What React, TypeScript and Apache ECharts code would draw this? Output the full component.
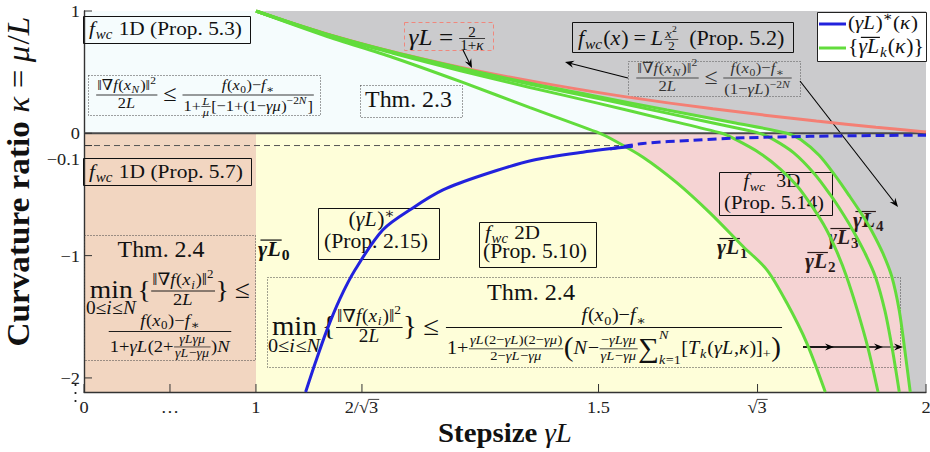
import React, { useEffect, useRef } from 'react';
import * as echarts from 'echarts';

// ---------------- data ----------------
// display x coordinate: stepsizes in [0,1] are compressed to [X_MIN,1]
const X_MIN = 0.749;
const X_MAX = 1.978;
const Y_MIN = -2.115;
const Y_MAX = 1;

const xTickPos = [0.749, 0.8745, 1, 1.1547, 1.5, 1.7321, 1.978];
const xTickLabels = ['0', '…', '1', '2/\\sq{3}', '1.5', '\\sq{3}', '2'];
const yTickPos = [1, 0, -0.1, -1, -2];
const yTickLabels = ['1', '0', '−0.1', '−1', '−2'];

// γL = 2/(1+κ)
const redCurve = [[1, 1], [1.053, 0.9], [1.111, 0.8], [1.176, 0.7], [1.25, 0.6], [1.333, 0.5], [1.429, 0.4], [1.538, 0.3], [1.667, 0.2], [1.818, 0.1], [1.905, 0.05], [1.978, 0.011]];

// (γL)*(κ)
const blueSolid = [[1.0725, -2.115], [1.087, -1.87], [1.103, -1.617], [1.122, -1.36], [1.1445, -1.118], [1.185, -0.79], [1.229, -0.61], [1.273, -0.463], [1.331, -0.341], [1.404, -0.22], [1.477, -0.154], [1.55, -0.106]];
const blueDashed = [[1.517, -0.128], [1.565, -0.083], [1.638, -0.057], [1.711, -0.037], [1.809, -0.025], [1.907, -0.018], [1.978, -0.015]];

// γL_k(κ), k = 1..4 (upper: κ ≥ 0, lower: κ ≤ 0)
const g1Upper = [[1, 1], [1.1, 0.8], [1.2, 0.62], [1.3, 0.42], [1.4, 0.21], [1.502, 0]];
const g1Lower = [[1.502, 0], [1.517, -0.04], [1.565, -0.195], [1.615, -0.407], [1.663, -0.652], [1.711, -0.925], [1.746, -1.118], [1.775, -1.388], [1.804, -1.715], [1.831, -2.115]];
const g2Upper = [[1, 1], [1.1, 0.81], [1.2, 0.655], [1.3, 0.51], [1.4, 0.375], [1.5, 0.245], [1.6, 0.11], [1.68, 0]];
const g2Lower = [[1.68, 0], [1.7, -0.05], [1.735, -0.16], [1.765, -0.29], [1.79, -0.43], [1.812, -0.6], [1.832, -0.78], [1.848, -0.97], [1.862, -1.17], [1.878, -1.45], [1.894, -1.77], [1.908, -2.115]];
const g3Upper = [[1, 1], [1.1, 0.815], [1.2, 0.662], [1.3, 0.526], [1.4, 0.4], [1.5, 0.285], [1.6, 0.165], [1.7, 0.045], [1.735, 0]];
const g3Lower = [[1.735, 0], [1.755, -0.05], [1.785, -0.16], [1.815, -0.33], [1.838, -0.5], [1.857, -0.66], [1.872, -0.8], [1.889, -0.98], [1.904, -1.17], [1.918, -1.45], [1.929, -1.77], [1.939, -2.115]];
const g4Upper = [[1, 1], [1.1, 0.817], [1.2, 0.665], [1.3, 0.533], [1.4, 0.41], [1.5, 0.3], [1.6, 0.19], [1.7, 0.085], [1.775, 0]];
const g4Lower = [[1.775, 0], [1.795, -0.05], [1.822, -0.18], [1.846, -0.35], [1.866, -0.51], [1.884, -0.66], [1.899, -0.8], [1.915, -0.98], [1.928, -1.17], [1.939, -1.45], [1.947, -1.77], [1.955, -2.115]];

const refKappa = -0.1;
const refKappaEnd = 1.53;

// ---------------- tiny math typesetter ----------------
const FAM = '"Liberation Serif","DejaVu Serif",serif';
const HS = 1.08;
const ITAL = /[A-Za-zα-ω]/;
const DESC = /[()\[\]{}gjpqyμγβ‖|∑\/,]/;
const fontStr = (sz: number, it: boolean, bd: boolean) => `${it ? 'italic ' : ''}${bd ? 'bold ' : ''}${sz.toFixed(2)}px ${FAM}`;
let mctx: any = null;
function textW(s: string, font: string): number {
  if (!mctx) mctx = document.createElement('canvas').getContext('2d');
  mctx.font = font;
  return mctx.measureText(s).width;
}

function parse(src: string, sz: number, bd = false, rm = false): any[] {
  const out: any[] = [];
  let i = 0;
  const group = (): string => {
    if (src[i] === '{') {
      let depth = 0, j = i;
      for (; j < src.length; j++) {
        const ch = src[j];
        if (ch === '\\') { j++; continue; }
        if (ch === '{') depth++;
        else if (ch === '}') { depth--; if (depth === 0) break; }
      }
      const g = src.slice(i + 1, j);
      i = j + 1;
      return g;
    }
    if (src[i] === '\\') { const g = src.slice(i, i + 2); i += 2; return g; }
    const c = src[i]; i++; return c;
  };
  const pushChar = (ch: string, it: boolean) => {
    const last = out[out.length - 1];
    if (last && last.k === 't' && last.sz === sz && last.it === it && last.bd === bd && last.dy === 0) last.s += ch;
    else out.push({ k: 't', s: ch, sz, it, bd, dy: 0 });
  };
  while (i < src.length) {
    const c = src[i];
    if (c === '_' || c === '^') {
      i++;
      const g = parse(group(), sz * 0.7, bd, rm);
      const slot = c === '_' ? 'sub' : 'sup';
      let last = out[out.length - 1];
      if (!(last && last.k === 'x' && !last[slot])) {
        const prev = out[out.length - 1];
        last = { k: 'x', sub: null, sup: null, sz, big: !!(prev && prev.k === 't' && prev.sz > sz * 1.3) };
        out.push(last);
      }
      last[slot] = g;
      continue;
    }
    if (c === '\\') {
      const nx = src[i + 1];
      if (!/[a-zA-Z]/.test(nx)) { pushChar(nx, false); i += 2; continue; }
      let j = i + 1;
      while (j < src.length && /[a-zA-Z]/.test(src[j])) j++;
      const cmd = src.slice(i + 1, j);
      i = j;
      if (cmd === 'fr') { const a = group(); const b = group(); out.push({ k: 'f', n: parse(a, sz, bd, rm), d: parse(b, sz, bd, rm), sz }); }
      else if (cmd === 'z') { const f = parseFloat(group()); out.push(...parse(group(), sz * f, bd, rm)); }
      else if (cmd === 'rm') out.push(...parse(group(), sz, bd, true));
      else if (cmd === 'bf') out.push(...parse(group(), sz, true, rm));
      else if (cmd === 'ol') out.push({ k: 'o', c: parse(group(), sz, bd, rm), sz });
      else if (cmd === 'sq') out.push({ k: 'q', c: parse(group(), sz, bd, rm), sz });
      else if (cmd === 'un') { const a = group(); const b = group(); out.push({ k: 'u', b: parse(a, sz, bd, rm), u: parse(b, sz * 0.7, bd, rm), sz }); }
      else if (cmd === 'lg') out.push({ k: 't', s: group(), sz: sz * 1.45, it: false, bd, dy: sz * 0.1 });
      else if (cmd === 'lgs') out.push({ k: 't', s: group(), sz: sz * 1.45, it: false, bd, dy: sz * 0.2 });
      continue;
    }
    if (c === ' ') {
      if (rm) out.push({ k: 's', w: textW(' ', fontStr(sz, false, bd)) });
      else out.push({ k: 's', w: sz * 0.22 });
      i++;
      continue;
    }
    pushChar(c, !rm && ITAL.test(c));
    i++;
  }
  return out;
}

function txt(s: string, font: string, x: number, y: number, col: string) {
  return { type: 'text', x, y, scaleX: HS, silent: true, style: { text: s, font, fill: col, textAlign: 'left', textVerticalAlign: 'middle', align: 'left', verticalAlign: 'middle' } };
}
function hline(x1: number, x2: number, y: number, col: string, lw: number) {
  return { type: 'line', silent: true, shape: { x1, y1: y, x2, y2: y }, style: { stroke: col, lineWidth: lw } };
}

function lay(nodes: any[], x: number, base: number, axis: number, out: any[] | null, col: string): { w: number; h: number; d: number } {
  let cx = x, h = 0, d = 0;
  for (const nd of nodes) {
    if (nd.k === 's') { cx += nd.w * HS; continue; }
    if (nd.k === 't') {
      const f = fontStr(nd.sz, nd.it, nd.bd);
      const w = textW(nd.s, f) * HS;
      if (out) out.push(txt(nd.s, f, cx, base + nd.dy - nd.sz * 0.34, col));
      cx += w + (nd.it ? nd.sz * 0.04 : 0);
      h = Math.max(h, 0.7 * nd.sz - nd.dy);
      d = Math.max(d, (DESC.test(nd.s) ? 0.22 * nd.sz : 0.01) + nd.dy);
      continue;
    }
    if (nd.k === 'f') {
      const ax = 0.27 * nd.sz;
      const bn = lay(nd.n, 0, 0, ax, null, col);
      const bdn = lay(nd.d, 0, 0, ax, null, col);
      const W = Math.max(bn.w, bdn.w) + 2;
      const ly = base - axis;
      const gap = Math.max(1.2, nd.sz * 0.12);
      if (out) {
        out.push(hline(cx + 0.5, cx + 0.5 + W, ly, col, Math.max(0.7, nd.sz * 0.055)));
        lay(nd.n, cx + 0.5 + (W - bn.w) / 2, ly - gap - bn.d, ax, out, col);
        lay(nd.d, cx + 0.5 + (W - bdn.w) / 2, ly + gap + bdn.h, ax, out, col);
      }
      h = Math.max(h, axis + gap + bn.d + bn.h);
      d = Math.max(d, gap + bdn.h + bdn.d - axis);
      cx += W + 1;
      continue;
    }
    if (nd.k === 'x') {
      const dSub = nd.big ? 0.55 * nd.sz : (nd.sup ? 0.3 : 0.22) * nd.sz;
      const dSup = nd.big ? -0.8 * nd.sz : -0.42 * nd.sz;
      const ax2 = 0.27 * nd.sz * 0.7;
      let w = 0;
      if (nd.sub) { const b = lay(nd.sub, cx, base + dSub, ax2, out, col); w = Math.max(w, b.w); d = Math.max(d, dSub + b.d); h = Math.max(h, b.h - dSub); }
      if (nd.sup) { const b = lay(nd.sup, cx, base + dSup, ax2, out, col); w = Math.max(w, b.w); h = Math.max(h, b.h - dSup); }
      cx += w + 0.5;
      continue;
    }
    if (nd.k === 'o') {
      const b = lay(nd.c, cx, base, axis, out, col);
      const H1 = Math.max(b.h, 0.68 * nd.sz) + 1.5;
      if (out) out.push(hline(cx + nd.sz * 0.12, cx + b.w, base - H1, col, Math.max(0.8, nd.sz * 0.06)));
      h = Math.max(h, H1 + 1);
      d = Math.max(d, b.d);
      cx += b.w;
      continue;
    }
    if (nd.k === 'q') {
      const f = fontStr(nd.sz, false, false);
      const wr = textW('√', f) * HS;
      if (out) out.push(txt('√', f, cx, base - nd.sz * 0.34, col));
      const b = lay(nd.c, cx + wr, base, axis, out, col);
      const vy = base - nd.sz * 0.8;
      if (out) out.push(hline(cx + wr - 0.4, cx + wr + b.w + 1, vy, col, Math.max(0.7, nd.sz * 0.05)));
      cx += wr + b.w + 1;
      h = Math.max(h, nd.sz * 0.85);
      d = Math.max(d, nd.sz * 0.1);
      continue;
    }
    if (nd.k === 'u') {
      const bb = lay(nd.b, 0, 0, axis, null, col);
      const bu = lay(nd.u, 0, 0, axis * 0.7, null, col);
      const W = Math.max(bb.w, bu.w);
      const uy = base + nd.sz * 0.64;
      if (out) {
        lay(nd.b, cx + (W - bb.w) / 2, base, axis, out, col);
        lay(nd.u, cx + (W - bu.w) / 2, uy, axis * 0.7, out, col);
      }
      h = Math.max(h, bb.h);
      d = Math.max(d, nd.sz * 0.64 + bu.d);
      cx += W + 1;
      continue;
    }
  }
  return { w: cx - x, h, d };
}

function M(src: string, o: { sz: number; x: number; y: number; al?: string; col?: string; fit?: number; ax?: boolean; z?: number }): any[] {
  let sz = o.sz;
  const col = o.col || '#111';
  let nodes = parse(src, sz);
  let b = lay(nodes, 0, 0, 0.27 * sz, null, col);
  if (o.fit && b.w > 0) {
    sz = sz * o.fit / b.w;
    nodes = parse(src, sz);
    b = lay(nodes, 0, 0, 0.27 * sz, null, col);
  }
  const x0 = o.al === 'c' ? o.x - b.w / 2 : o.al === 'r' ? o.x - b.w : o.x;
  const base = o.ax ? o.y + 0.27 * sz : o.y;
  const out: any[] = [];
  lay(nodes, x0, base, 0.27 * sz, out, col);
  if (o.z !== undefined) out.forEach((e) => (e.z = o.z));
  return out;
}

// ---------------- annotation helpers ----------------
function rect(x1: number, y1: number, x2: number, y2: number, kind: string, stroke = '#111', fill = 'none') {
  const style: any = { fill, stroke, lineWidth: 1 };
  if (kind === 'dot') style.lineDash = [1, 2];
  if (kind === 'dash') style.lineDash = [4, 3];
  return { type: 'rect', silent: true, z: 1, shape: { x: x1 + 0.5, y: y1 + 0.5, width: x2 - x1, height: y2 - y1 }, style };
}
function arrow(x1: number, y1: number, x2: number, y2: number, col = '#000') {
  const a = Math.atan2(y2 - y1, x2 - x1);
  const c = Math.cos(a), s = Math.sin(a);
  const L = 9, Wd = 3.6, notch = 6;
  const bx = x2 - L * c, by = y2 - L * s;
  const nx = x2 - notch * c, ny = y2 - notch * s;
  return [
    { type: 'line', silent: true, z: 1, shape: { x1, y1, x2: nx, y2: ny }, style: { stroke: col, lineWidth: 1.1 } },
    { type: 'polygon', silent: true, z: 1, shape: { points: [[x2, y2], [bx - Wd * s, by + Wd * c], [nx, ny], [bx + Wd * s, by - Wd * c]] }, style: { fill: col } },
  ];
}

const BLUE = '#2222dd';
const GREEN = '#62dc3c';
const RED = '#f47f74';
const REGION_COLORS = ['#cbcbcd', '#f5fcfd', '#f2d6c1', '#fefed9', '#f5d3d3'];

function buildGraphic() {
  const G: any[] = [];
  const add = (els: any[]) => els.forEach((e) => { e.z = 1; G.push(e); });
  const R = String.raw;

  // top-left
  G.push(rect(83, 16, 250, 43, 'solid'));
  add(M(R`f_{wc}\rm{ 1D (Prop. 5.3)}`, { sz: 17, x: 89, y: 35, fit: 153 }));
  G.push(rect(88, 75, 320, 115, 'dot', '#444'));
  add(M(R`\z{.67}{\fr{‖∇f(x_N)‖^2}{2L}} \z{1}{≤} \z{.67}{\fr{f(x_0)−f_∗}{1+\z{.75}{\fr{L}{μ}}[−1+(1−γμ)^{−2N}]}}`, { sz: 15, x: 205, y: 95, al: 'c', fit: 224, ax: true }));
  G.push(rect(360, 85, 462, 117, 'dot', '#444'));
  add(M(R`\rm{Thm. 2.3}`, { sz: 22, x: 408.5, y: 107, al: 'c', fit: 87 }));

  // red formula
  G.push(rect(404, 22, 493, 50, 'dash', '#f0877c'));
  add(M(R`γL = \z{.6}{\fr{2}{1+κ}}`, { sz: 18, x: 447, y: 38.5, al: 'c', fit: 78, ax: true }));
  arrow(463, 50, 472, 68).forEach((e) => G.push(e));

  // quadratic
  G.push(rect(572, 22, 793, 52, 'solid'));
  add(M(R`f_{wc}(x) = L\z{.62}{\fr{x^2}{2}} \rm{ (Prop. 5.2)}`, { sz: 18, x: 578, y: 45, fit: 207 }));
  G.push(rect(628, 61, 800, 96, 'dot', '#555'));
  add(M(R`\z{.7}{\fr{‖∇f(x_N)‖^2}{2L}} ≤ \z{.7}{\fr{f(x_0)−f_∗}{(1−γL)^{−2N}}}`, { sz: 15, x: 714, y: 78, al: 'c', fit: 160, ax: true, col: '#333' }));
  arrow(628, 78, 565, 62).forEach((e) => G.push(e));
  arrow(800, 81, 898, 207).forEach((e) => G.push(e));

  // legend
  G.push(rect(817, 12, 926, 61, 'solid', '#222', '#ffffff'));
  G.push({ type: 'line', silent: true, z: 1, shape: { x1: 819, y1: 24, x2: 846, y2: 24 }, style: { stroke: BLUE, lineWidth: 3 } });
  G.push({ type: 'line', silent: true, z: 1, shape: { x1: 819, y1: 48, x2: 846, y2: 48 }, style: { stroke: GREEN, lineWidth: 3 } });
  add(M(R`(γL)^∗(κ)`, { sz: 18, x: 848, y: 29, fit: 70 }));
  add(M(R`\{\ol{γL}_k(κ)\}`, { sz: 18, x: 848, y: 53, fit: 76 }));

  // left, κ<0
  G.push(rect(83, 158, 251, 185, 'solid'));
  add(M(R`f_{wc}\rm{ 1D (Prop. 5.7)}`, { sz: 17, x: 89, y: 178, fit: 154 }));
  G.push(rect(84, 235, 255, 360, 'dot', '#444'));
  add(M(R`\rm{Thm. 2.4}`, { sz: 22, x: 161, y: 257, al: 'c', fit: 87 }));
  add(M(R`\un{\rm{min}}{0≤i≤N}\{\z{.67}{\fr{‖∇f(x_i)‖^2}{2L}}\} ≤`, { sz: 18, x: 86, y: 291, fit: 166, ax: true }));
  add(M(R`\z{.67}{\fr{f(x_0)−f_∗}{1+γL(2+\z{.75}{\fr{γLγμ}{γL−γμ}})N}}`, { sz: 18, x: 170, y: 331.5, al: 'c', fit: 126, ax: true }));

  add(M(R`\bf{\ol{γL}_0}`, { sz: 19, x: 258, y: 256, fit: 32 }));

  G.push(rect(318, 208, 439, 259, 'solid'));
  add(M(R`(γL)^∗`, { sz: 17, x: 372, y: 226, al: 'c', fit: 47 }));
  add(M(R`\rm{(Prop. 2.15)}`, { sz: 17, x: 376, y: 248, al: 'c', fit: 104 }));

  G.push(rect(479, 222, 596, 267, 'solid'));
  add(M(R`f_{wc}\rm{ 2D}`, { sz: 17, x: 485, y: 239, fit: 55 }));
  add(M(R`\rm{(Prop. 5.10)}`, { sz: 17, x: 483, y: 258, fit: 104 }));

  G.push(rect(719, 172, 832, 215, 'solid'));
  add(M(R`f_{wc}\rm{  3D}`, { sz: 17, x: 772, y: 187, al: 'c', fit: 57 }));
  add(M(R`\rm{(Prop. 5.14)}`, { sz: 17, x: 774, y: 209, al: 'c', fit: 100 }));

  add(M(R`\bf{\ol{γL}_1}`, { sz: 19, x: 717, y: 254, fit: 31, col: '#1a1a1a' }));
  add(M(R`\bf{\ol{γL}_2}`, { sz: 19, x: 805, y: 268, fit: 31, col: '#2a1a1a' }));
  add(M(R`\bf{\ol{γL}_3}`, { sz: 19, x: 828, y: 244, fit: 31, col: '#2a1a1a' }));
  add(M(R`\bf{\ol{γL}_4}`, { sz: 19, x: 853, y: 227, fit: 31, col: '#2a1a1a' }));

  // bottom theorem
  G.push(rect(267, 277, 900, 367, 'dot', '#444'));
  add(M(R`\rm{Thm. 2.4}`, { sz: 22, x: 531, y: 300, al: 'c', fit: 88 }));
  add(M(R`\un{\rm{min}}{0≤i≤N}\{\z{.67}{\fr{‖∇f(x_i)‖^2}{2L}}\} ≤ \z{.7}{\fr{f(x_0)−f_∗}{1+\z{.72}{\fr{γL(2−γL)(2−γμ)}{2−γL−γμ}}\lg{(}N−\z{.72}{\fr{−γLγμ}{γL−γμ}}\lgs{∑}_{k=1}^{N}[T_k(γL,κ)]_+\lg{)}}}`, { sz: 18, x: 268, y: 327.5, fit: 522, ax: true }));
  arrow(803, 347, 834, 347).forEach((e) => G.push(e));
  arrow(803, 347, 883, 347).forEach((e) => G.push(e));
  arrow(803, 347, 903, 347).forEach((e) => G.push(e));

  // vertical dots under the y axis
  [385, 393, 401].forEach((yy) => G.push({ type: 'circle', silent: true, z: 1, shape: { cx: 75.5, cy: yy, r: 1.1 }, style: { fill: '#222' } }));

  // axis titles
  G.push({ type: 'group', x: 0, y: 181, rotation: Math.PI / 2, z: 1, children: M(R`\bf{\rm{Curvature ratio }}κ = μ/L`, { sz: 24, x: 0, y: 29, al: 'c', fit: 331, z: 1 }) });
  add(M(R`\bf{\rm{Stepsize }}γL`, { sz: 21, x: 505.5, y: 442, al: 'c', fit: 135 }));
  return G;
}

function buildOption() {
  const g1 = [...g1Upper, ...g1Lower.slice(1)];
  const g2 = [...g2Upper, ...g2Lower.slice(1)];
  const g3 = [...g3Upper, ...g3Lower.slice(1)];
  const g4 = [...g4Upper, ...g4Lower.slice(1)];
  const regionPolys = [
    [[X_MIN, Y_MIN], [X_MIN, Y_MAX], [X_MAX, Y_MAX], [X_MAX, Y_MIN]],
    [[X_MIN, 0], [X_MIN, Y_MAX], ...g4Upper],
    [[X_MIN, 0], [1, 0], [1, Y_MIN], [X_MIN, Y_MIN]],
    [[1, 0], ...g1Lower, [1, Y_MIN]],
    [...g1Lower, ...g4Lower.slice().reverse()],
  ];
  const line = (name: string, data: number[][], color: string, width: number, dash?: number[], smooth = 0.3) => ({
    type: 'line', name, data, showSymbol: false, symbol: 'none', smooth, silent: true, z: 2,
    lineStyle: { color, width, type: dash || 'solid', cap: 'butt' },
  });
  const Y_LABEL_DY: Record<string, number> = { '−0.1': 13.5 };

  return {
    animation: false,
    backgroundColor: '#ffffff',
    grid: { left: 84, right: 4, top: 11, bottom: 60, containLabel: false },
    xAxis: {
      type: 'value', min: X_MIN, max: X_MAX,
      axisLine: { show: true, onZero: false, lineStyle: { color: '#333', width: 1.4 } },
      axisTick: { show: false }, axisLabel: { show: false }, splitLine: { show: false },
    },
    yAxis: {
      type: 'value', min: Y_MIN, max: Y_MAX,
      axisLine: { show: true, onZero: false, lineStyle: { color: '#333', width: 1.4 } },
      axisTick: { show: false }, axisLabel: { show: false }, splitLine: { show: false },
    },
    graphic: { elements: buildGraphic() },
    series: [
      {
        type: 'custom', name: 'regions', z: -1, silent: true, clip: true,
        data: regionPolys.map((_, i) => [X_MIN, Y_MIN, i]),
        renderItem: (params: any, api: any) => {
          const i = params.dataIndex;
          return { type: 'polygon', z2: i, shape: { points: regionPolys[i].map((p) => api.coord(p)) }, style: { fill: REGION_COLORS[i] } };
        },
      },
      line('κ = 0', [[X_MIN, 0], [X_MAX, 0]], '#4a4a4a', 2, undefined, 0),
      line('κ = −0.1', [[X_MIN, refKappa], [refKappaEnd, refKappa]], '#555', 1, [6, 4], 0),
      line('γL = 2/(1+κ)', redCurve, RED, 3),
      line('γL1', g1, GREEN, 3),
      line('γL2', g2, GREEN, 3),
      line('γL3', g3, GREEN, 3),
      line('γL4', g4, GREEN, 3),
      line('(γL)* dashed', blueDashed, BLUE, 3, [9, 5]),
      line('(γL)*', blueSolid, BLUE, 3),
      {
        type: 'custom', name: 'xticks', z: 5, silent: true, clip: false,
        data: xTickPos.map((v) => [v, Y_MIN]),
        renderItem: (params: any, api: any) => {
          const i = params.dataIndex;
          const p = api.coord([xTickPos[i], Y_MIN]);
          return {
            type: 'group',
            children: [
              { type: 'line', shape: { x1: p[0], y1: p[1], x2: p[0], y2: p[1] - 8 }, style: { stroke: '#333', lineWidth: 1 } },
              ...M(xTickLabels[i], { sz: 17, x: p[0], y: p[1] + 21, al: 'c', col: '#222' }),
            ],
          };
        },
      },
      {
        type: 'custom', name: 'yticks', z: 5, silent: true, clip: false,
        data: yTickPos.map((v) => [X_MIN, v]),
        renderItem: (params: any, api: any) => {
          const i = params.dataIndex;
          const p = api.coord([X_MIN, yTickPos[i]]);
          const dy = Y_LABEL_DY[yTickLabels[i]] || 0;
          return {
            type: 'group',
            children: [
              { type: 'line', shape: { x1: p[0], y1: p[1], x2: p[0] + 8, y2: p[1] }, style: { stroke: '#333', lineWidth: 1 } },
              ...M(yTickLabels[i], { sz: 17, x: p[0] - 4, y: p[1] + dy + 6, al: 'r', col: '#222' }),
            ],
          };
        },
      },
    ],
  };
}

export default function App() {
  const ref = useRef<HTMLDivElement>(null);
  useEffect(() => {
    const chart = echarts.init(ref.current!, undefined, { renderer: 'svg' });
    chart.setOption(buildOption() as any);
    return () => chart.dispose();
  }, []);
  return <div ref={ref} style={{ position: 'fixed', left: 0, top: 0, width: 930, height: 452, background: '#fff' }} />;
}
